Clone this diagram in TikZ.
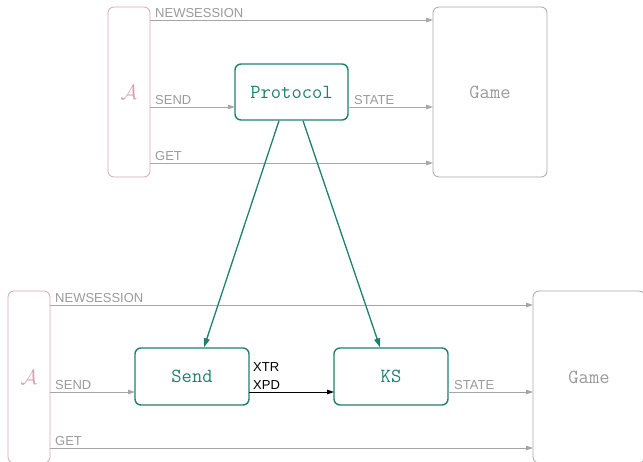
\documentclass[tikz,border=0pt]{standalone}
\usepackage{fontspec}
\setsansfont{Liberation Sans}
\usetikzlibrary{arrows.meta}
\definecolor{teal}{HTML}{1F8070}
\definecolor{wire}{HTML}{A6A6A6}
\definecolor{adv}{HTML}{D8A4B2}
\definecolor{gametxt}{HTML}{9A9A9A}
\tikzset{
  box/.style={draw, rounded corners=6pt, line width=0.8pt, inner sep=0pt},
  advbox/.style={box, draw=adv, text=adv, font=\fontsize{22}{22}\selectfont},
  gamebox/.style={box, draw=wire, text=gametxt, font=\ttfamily\fontsize{20}{20}\selectfont},
  pkgbox/.style={box, draw=teal, text=teal, line width=1.4pt, font=\ttfamily\fontsize{20}{20}\selectfont},
  wire/.style={draw=wire, line width=0.8pt, -{Triangle[length=7pt,width=4.5pt]}},
  blackwire/.style={draw=black, line width=0.8pt, -{Triangle[length=7pt,width=4.5pt]}},
  call/.style={draw=teal, line width=1.3pt, -{Triangle[length=9pt,width=6pt]}},
  lbl/.style={font=\sffamily\fontsize{13}{13}\selectfont, text=gametxt, anchor=south west, inner sep=0pt},
  blbl/.style={font=\sffamily\fontsize{13}{13}\selectfont, text=black, anchor=south west, inner sep=0pt}
}
\begin{document}
\begin{tikzpicture}[x=1pt,y=-1pt]
\useasboundingbox (0,0) rectangle (643,461);

% upper composition
\node[advbox, minimum width=42pt, minimum height=170pt] (A1) at (129,92) {$\mathcal{A}$};
\node[gamebox, minimum width=114pt, minimum height=170pt] (G1) at (490,92) {Game};
\node[pkgbox, minimum width=113pt, minimum height=56pt] (P) at (291.5,92) {Protocol};

\coordinate (a1n) at (150,20);
\coordinate (g1n) at (433,20);
\coordinate (a1s) at (150,107);
\coordinate (g1s) at (433,107);
\coordinate (a1g) at (150,163);
\coordinate (g1g) at (433,163);
\coordinate (p1w) at (235,107);
\coordinate (p1e) at (348,107);

\draw[wire] (a1n) -- (g1n);
\draw[wire] (a1s) -- (p1w);
\draw[wire] (p1e) -- (g1s);
\draw[wire] (a1g) -- (g1g);
\node[lbl] at (155,18) {NEWSESSION};
\node[lbl] at (155,105) {SEND};
\node[lbl] at (354,105) {STATE};
\node[lbl] at (155,161) {GET};

% lower composition
\node[advbox, minimum width=42pt, minimum height=172pt] (A2) at (29,377) {$\mathcal{A}$};
\node[gamebox, minimum width=112pt, minimum height=172pt] (G2) at (589,377) {Game};
\node[pkgbox, minimum width=114pt, minimum height=57pt] (S) at (192,376.5) {Send};
\node[pkgbox, minimum width=114pt, minimum height=57pt] (K) at (391,376.5) {KS};

\coordinate (a2n) at (50,305);
\coordinate (g2n) at (533,305);
\coordinate (a2s) at (50,392);
\coordinate (s2w) at (135,392);
\coordinate (s2e) at (249,392);
\coordinate (k2w) at (334,392);
\coordinate (k2e) at (448,392);
\coordinate (g2s) at (533,392);
\coordinate (a2g) at (50,448);
\coordinate (g2g) at (533,448);

\draw[wire] (a2n) -- (g2n);
\draw[wire] (a2s) -- (s2w);
\draw[blackwire] (s2e) -- (k2w);
\draw[wire] (k2e) -- (g2s);
\draw[wire] (a2g) -- (g2g);
\node[lbl] at (55,303) {NEWSESSION};
\node[lbl] at (55,390) {SEND};
\node[blbl] at (253,372) {XTR};
\node[blbl] at (253,390) {XPD};
\node[lbl] at (454,390) {STATE};
\node[lbl] at (55,446) {GET};

% decomposition of the protocol
\draw[call] (P.south -| 279,0) -- (S.north -| 204,0);
\draw[call] (P.south -| 303,0) -- (K.north -| 380,0);
\end{tikzpicture}
\end{document}
